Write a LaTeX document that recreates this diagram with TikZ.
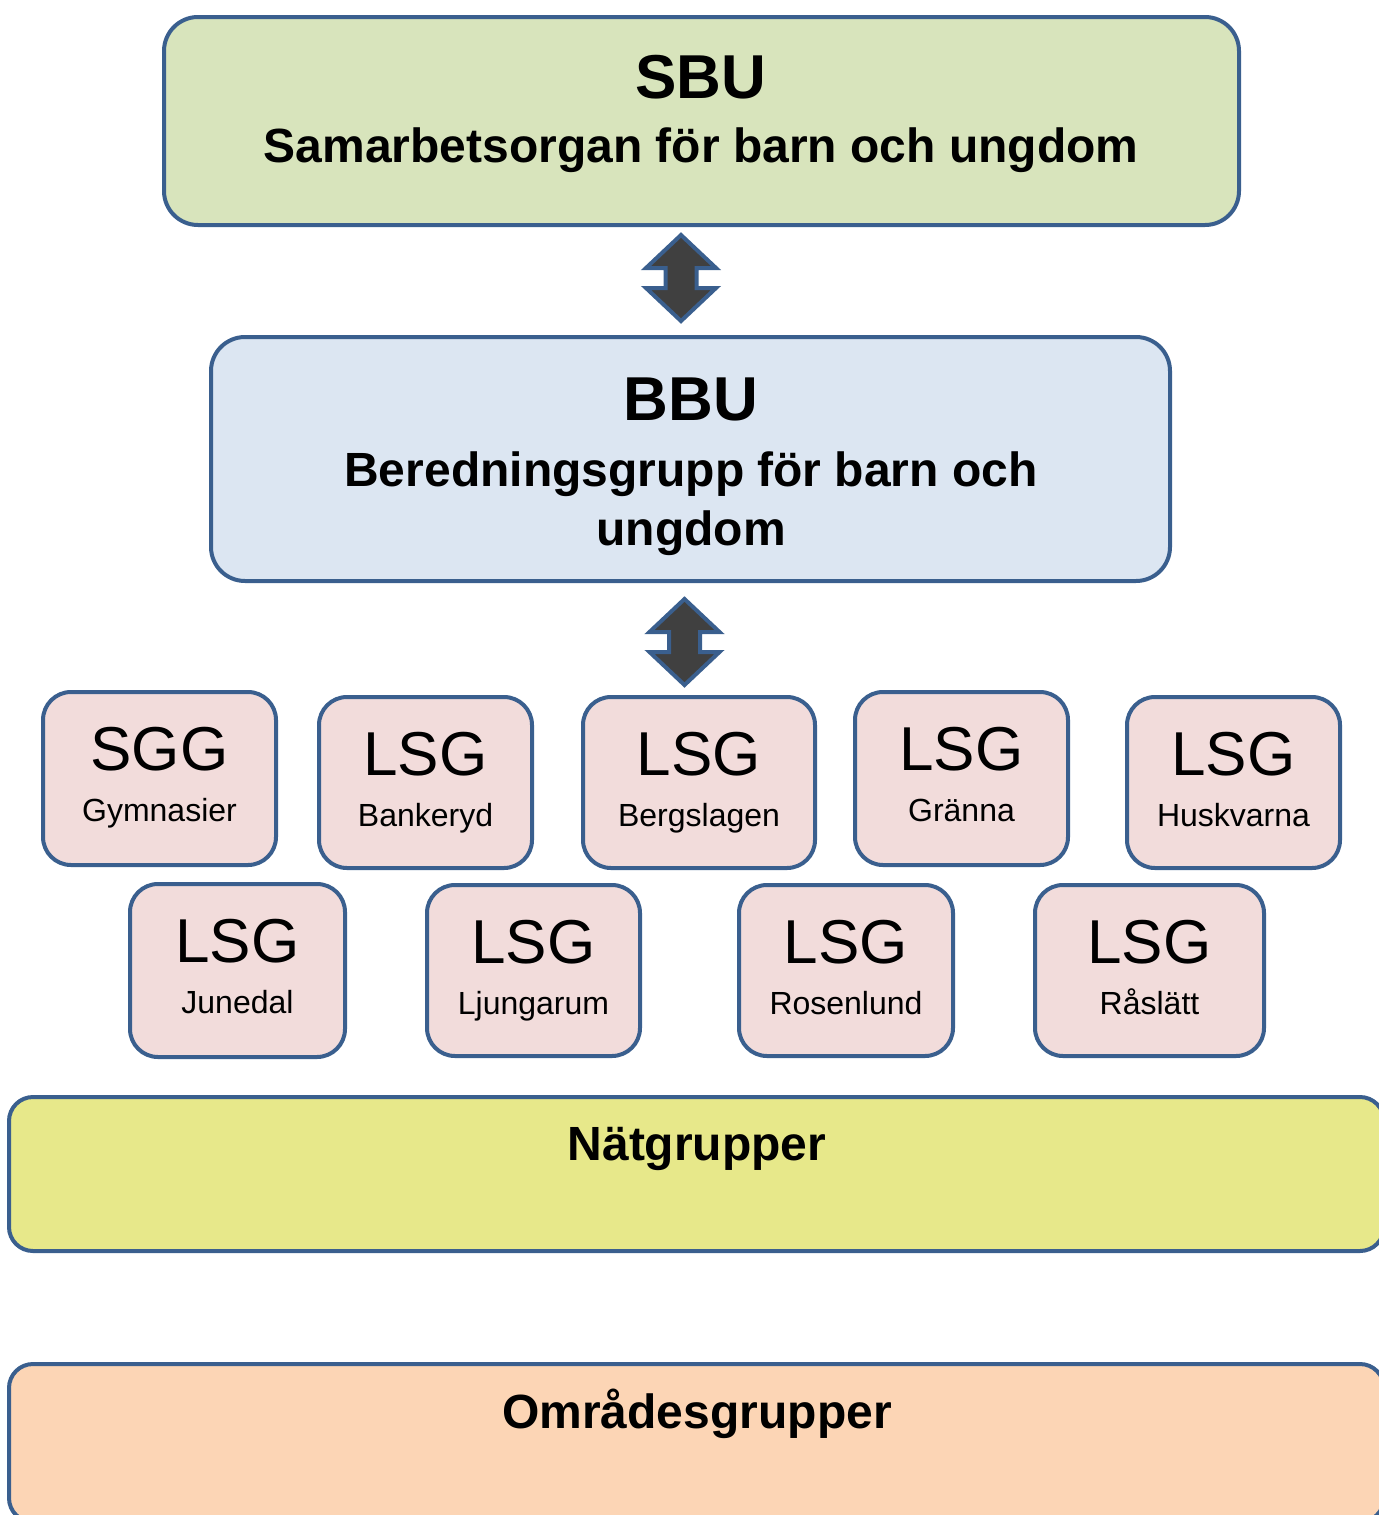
\documentclass[tikz,border=0pt]{standalone}
\usepackage{fontspec}
\setmainfont{Liberation Sans}
\usetikzlibrary{calc}

\definecolor{edgeblue}{HTML}{3A5F8E}
\definecolor{sbugreen}{HTML}{D8E4BC}
\definecolor{bbublue}{HTML}{DCE6F2}
\definecolor{lsgpink}{HTML}{F2DCDB}
\definecolor{natyellow}{HTML}{E7E88A}
\definecolor{omrpeach}{HTML}{FCD5B5}
\definecolor{arrowgray}{HTML}{404040}

\tikzset{
  bigbox/.style={draw=edgeblue, line width=2pt, rounded corners=17pt, inner sep=0pt},
  stripbox/.style={draw=edgeblue, line width=2pt, rounded corners=12pt, inner sep=0pt},
  smallbox/.style={draw=edgeblue, line width=2pt, rounded corners=14pt, inner sep=0pt, fill=lsgpink},
  blockarrow/.style={draw=edgeblue, line width=2pt, fill=arrowgray, line join=miter},
  headtext/.style={anchor=base, font=\bfseries\fontsize{31}{37}\selectfont},
  subtext/.style={anchor=base, font=\bfseries\fontsize{24}{29}\selectfont},
  lsgtext/.style={anchor=base, font=\fontsize{31}{37}\selectfont},
  placetext/.style={anchor=base, font=\fontsize{16}{19}\selectfont}
}

\begin{document}
\begin{tikzpicture}[x=0.5pt, y=-0.5pt]
\useasboundingbox (0,0) rectangle (1378,1515);

% Top level
\node[bigbox, fill=sbugreen, minimum width=537.5pt, minimum height=104pt] (sbu) at (701.5,121) {};
\node[headtext] at (701,98) {SBU};
\node[subtext] at (701,162) {Samarbetsorgan för barn och ungdom};

% Double arrow SBU <-> BBU
\coordinate (sbuarrow) at (681,278);
\draw[blockarrow] ($(sbuarrow)+(0,-43)$) -- ++(35,33) -- ++(-19.5,0) -- ++(0,20) -- ++(19.5,0)
  -- ++(-35,33) -- ++(-35,-33) -- ++(19.5,0) -- ++(0,-20) -- ++(-19.5,0) -- cycle;

% Middle level
\node[bigbox, fill=bbublue, minimum width=479.5pt, minimum height=122pt] (bbu) at (690.5,459) {};
\node[headtext] at (691,420) {BBU};
\node[subtext] at (691,486) {Beredningsgrupp för barn och};
\node[subtext] at (691,545) {ungdom};

% Double arrow BBU <-> groups
\coordinate (bbuarrow) at (684.5,642);
\draw[blockarrow] ($(bbuarrow)+(0,-43)$) -- ++(35,33) -- ++(-19.5,0) -- ++(0,20) -- ++(19.5,0)
  -- ++(-35,33) -- ++(-35,-33) -- ++(19.5,0) -- ++(0,-20) -- ++(-19.5,0) -- cycle;

% Local groups
\foreach \nm/\cx/\cy/\w/\h/\ttl/\sub in {
  sgg/159.5/778.5/116.5/86.5/SGG/Gymnasier,
  bankeryd/425.5/782.5/106.5/85.5/LSG/Bankeryd,
  bergslagen/699/782.5/116/85.5/LSG/Bergslagen,
  granna/961.5/778.5/106.5/86.5/LSG/Gränna,
  huskvarna/1233.5/782.5/106.5/85.5/LSG/Huskvarna,
  junedal/237.5/970.5/107.5/86.5/LSG/Junedal,
  ljungarum/533.5/970.5/106.5/85.5/LSG/Ljungarum,
  rosenlund/846/970.5/107/85.5/LSG/Rosenlund,
  raslatt/1149.5/970.5/114.5/85.5/LSG/Råslätt}
{
  \node[smallbox, minimum width=\w pt, minimum height=\h pt] (\nm) at (\cx,\cy) {};
  \node[lsgtext] at ($(\nm.north)+(0,80)$) {\ttl};
  \node[placetext] at ($(\nm.north)+(0,131)$) {\sub};
}

% Bottom strips
\node[stripbox, fill=natyellow, minimum width=687.5pt, minimum height=77pt] (nat) at (696.5,1174) {};
\node[subtext] at (697,1160) {Nätgrupper};

\node[stripbox, fill=omrpeach, minimum width=687.5pt, minimum height=79pt] (omr) at (696.5,1443) {};
\node[subtext] at (697,1428) {Områdesgrupper};
\end{tikzpicture}
\end{document}
